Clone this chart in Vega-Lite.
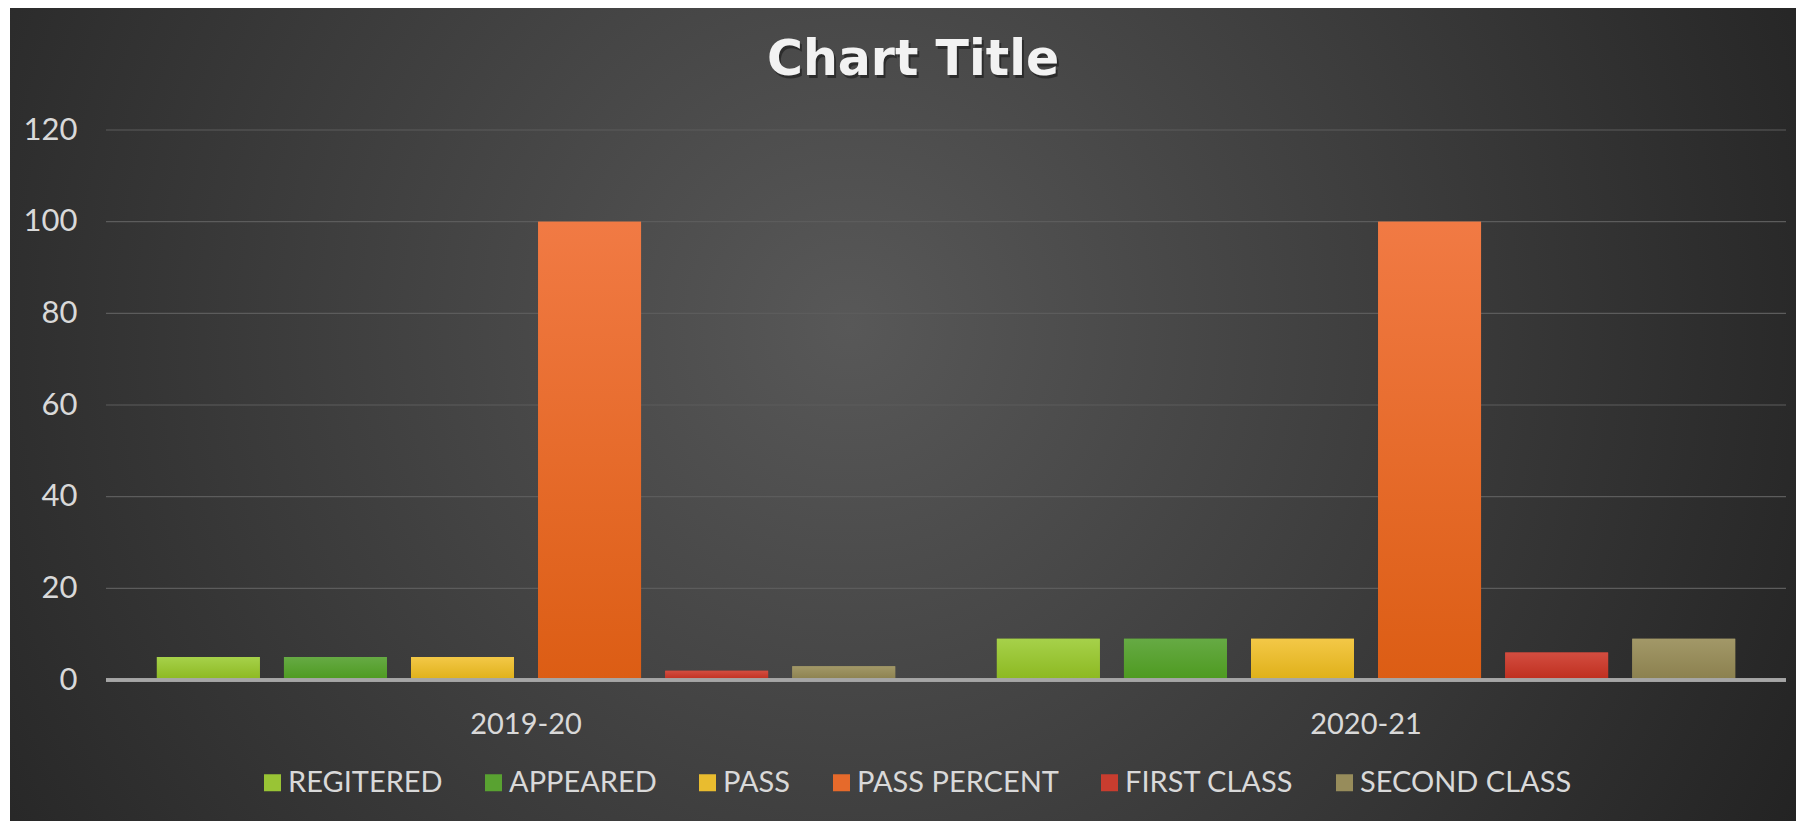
{
  "$schema": "https://vega.github.io/schema/vega-lite/v6.json",
  "width": 1786,
  "height": 813,
  "autosize": {"type": "none"},
  "padding": {"left": 10, "top": 8, "right": 0, "bottom": 0},
  "background": "white",
  "config": {
    "font": "Lato",
    "view": {
      "stroke": null,
      "fill": {
        "gradient": "radial",
        "x1": 0.47, "y1": 0.45, "r1": 0,
        "x2": 0.47, "y2": 0.45, "r2": 0.6,
        "stops": [
          {"offset": 0, "color": "#585858"},
          {"offset": 1, "color": "#232323"}
        ]
      }
    },
    "axisY": {"title": null, "grid": false, "domain": false, "ticks": false, "tickSize": 0, "labelPadding": 0, "offset": -67, "labelFontSize": 31, "labelColor": "#d9d9d9", "labelFont": "Lato"}
  },
  "datasets": {
    "bars": [
      {"year": "2019-20", "series": "REGITERED", "value": 5},
      {"year": "2019-20", "series": "APPEARED", "value": 5},
      {"year": "2019-20", "series": "PASS", "value": 5},
      {"year": "2019-20", "series": "PASS PERCENT", "value": 100},
      {"year": "2019-20", "series": "FIRST CLASS", "value": 2},
      {"year": "2019-20", "series": "SECOND CLASS", "value": 3},
      {"year": "2020-21", "series": "REGITERED", "value": 9},
      {"year": "2020-21", "series": "APPEARED", "value": 9},
      {"year": "2020-21", "series": "PASS", "value": 9},
      {"year": "2020-21", "series": "PASS PERCENT", "value": 100},
      {"year": "2020-21", "series": "FIRST CLASS", "value": 6},
      {"year": "2020-21", "series": "SECOND CLASS", "value": 9}
    ],
    "gridlines": [
      {"tick": 20}, {"tick": 40}, {"tick": 60}, {"tick": 80}, {"tick": 100}, {"tick": 120}
    ],
    "heading": [{"title": "Chart Title"}]
  },
  "data": {"name": "bars"},
  "layer": [
    {
      "data": {"name": "gridlines"},
      "mark": {"type": "rule", "color": "#5c5c5c", "strokeWidth": 1.2},
      "encoding": {
        "x": {"datum": 0, "type": "quantitative", "scale": {"domain": [-0.05714, 1.00595], "nice": false, "zero": false}, "axis": null},
        "x2": {"datum": 1},
        "y": {"field": "tick", "type": "quantitative", "scale": {"domain": [-30.76, 146.62], "nice": false, "zero": false}, "axis": {"values": [0, 20, 40, 60, 80, 100, 120]}}
      }
    },
    {
      "mark": {"type": "bar"},
      "encoding": {
        "x": {
          "field": "year", "type": "nominal",
          "scale": {"paddingInner": 0, "paddingOuter": 0.0631, "align": 0.906},
          "axis": {"title": null, "orient": "bottom", "offset": -141, "domain": false, "ticks": false, "grid": false, "labelAngle": 0, "labelPadding": 44, "labelBaseline": "middle", "labelFontSize": 29, "labelColor": "#d9d9d9", "labelFont": "Lato"}
        },
        "xOffset": {
          "field": "series", "type": "nominal",
          "sort": ["REGITERED", "APPEARED", "PASS", "PASS PERCENT", "FIRST CLASS", "SECOND CLASS"],
          "scale": {"paddingInner": 0.19, "paddingOuter": 0.4}
        },
        "y": {"field": "value", "type": "quantitative", "scale": {"domain": [-30.76, 146.62], "nice": false, "zero": false}, "axis": {"values": [0, 20, 40, 60, 80, 100, 120]}},
        "y2": {"datum": 0},
        "color": {
          "field": "series", "type": "nominal",
          "scale": {
            "domain": ["REGITERED", "APPEARED", "PASS", "PASS PERCENT", "FIRST CLASS", "SECOND CLASS"],
            "range": ["#99c435", "#59a231", "#e9bc2f", "#e66a2b", "#c83d2f", "#978c5b"]
          },
          "legend": {
            "title": null, "orient": "none", "legendX": 248, "legendY": 760, "padding": 0,
            "direction": "horizontal", "symbolType": "square", "symbolSize": 289,
            "symbolStrokeWidth": 0, "labelFontSize": 29, "labelColor": "#d9d9d9",
            "labelFont": "Lato", "labelOffset": 1, "columnPadding": 36, "labelLimit": 0
          }
        }
      }
    },
    {"transform": [{"filter": "datum.series === 'REGITERED'"}], "mark": {"type": "bar", "fill": {"gradient": "linear", "x1": 0, "y1": 0, "x2": 0, "y2": 1, "stops": [{"offset": 0, "color": "#a6d14a"}, {"offset": 1, "color": "#8cb820"}]}},
     "encoding": {"x": {"field": "year", "type": "nominal", "scale": {"paddingInner": 0, "paddingOuter": 0.0631, "align": 0.906}, "axis": null}, "xOffset": {"field": "series", "type": "nominal", "sort": ["REGITERED", "APPEARED", "PASS", "PASS PERCENT", "FIRST CLASS", "SECOND CLASS"], "scale": {"paddingInner": 0.19, "paddingOuter": 0.4}}, "y": {"field": "value", "type": "quantitative", "scale": {"domain": [-30.76, 146.62], "nice": false, "zero": false}}, "y2": {"datum": 0}}},
    {"transform": [{"filter": "datum.series === 'APPEARED'"}], "mark": {"type": "bar", "fill": {"gradient": "linear", "x1": 0, "y1": 0, "x2": 0, "y2": 1, "stops": [{"offset": 0, "color": "#66aa44"}, {"offset": 1, "color": "#4d9a1f"}]}},
     "encoding": {"x": {"field": "year", "type": "nominal", "scale": {"paddingInner": 0, "paddingOuter": 0.0631, "align": 0.906}, "axis": null}, "xOffset": {"field": "series", "type": "nominal", "sort": ["REGITERED", "APPEARED", "PASS", "PASS PERCENT", "FIRST CLASS", "SECOND CLASS"], "scale": {"paddingInner": 0.19, "paddingOuter": 0.4}}, "y": {"field": "value", "type": "quantitative", "scale": {"domain": [-30.76, 146.62], "nice": false, "zero": false}}, "y2": {"datum": 0}}},
    {"transform": [{"filter": "datum.series === 'PASS'"}], "mark": {"type": "bar", "fill": {"gradient": "linear", "x1": 0, "y1": 0, "x2": 0, "y2": 1, "stops": [{"offset": 0, "color": "#f3c847"}, {"offset": 1, "color": "#dfb018"}]}},
     "encoding": {"x": {"field": "year", "type": "nominal", "scale": {"paddingInner": 0, "paddingOuter": 0.0631, "align": 0.906}, "axis": null}, "xOffset": {"field": "series", "type": "nominal", "sort": ["REGITERED", "APPEARED", "PASS", "PASS PERCENT", "FIRST CLASS", "SECOND CLASS"], "scale": {"paddingInner": 0.19, "paddingOuter": 0.4}}, "y": {"field": "value", "type": "quantitative", "scale": {"domain": [-30.76, 146.62], "nice": false, "zero": false}}, "y2": {"datum": 0}}},
    {"transform": [{"filter": "datum.series === 'PASS PERCENT'"}], "mark": {"type": "bar", "fill": {"gradient": "linear", "x1": 0, "y1": 0, "x2": 0, "y2": 1, "stops": [{"offset": 0, "color": "#f17a44"}, {"offset": 1, "color": "#dc5d14"}]}},
     "encoding": {"x": {"field": "year", "type": "nominal", "scale": {"paddingInner": 0, "paddingOuter": 0.0631, "align": 0.906}, "axis": null}, "xOffset": {"field": "series", "type": "nominal", "sort": ["REGITERED", "APPEARED", "PASS", "PASS PERCENT", "FIRST CLASS", "SECOND CLASS"], "scale": {"paddingInner": 0.19, "paddingOuter": 0.4}}, "y": {"field": "value", "type": "quantitative", "scale": {"domain": [-30.76, 146.62], "nice": false, "zero": false}}, "y2": {"datum": 0}}},
    {"transform": [{"filter": "datum.series === 'FIRST CLASS'"}], "mark": {"type": "bar", "fill": {"gradient": "linear", "x1": 0, "y1": 0, "x2": 0, "y2": 1, "stops": [{"offset": 0, "color": "#d34d40"}, {"offset": 1, "color": "#be2e1e"}]}},
     "encoding": {"x": {"field": "year", "type": "nominal", "scale": {"paddingInner": 0, "paddingOuter": 0.0631, "align": 0.906}, "axis": null}, "xOffset": {"field": "series", "type": "nominal", "sort": ["REGITERED", "APPEARED", "PASS", "PASS PERCENT", "FIRST CLASS", "SECOND CLASS"], "scale": {"paddingInner": 0.19, "paddingOuter": 0.4}}, "y": {"field": "value", "type": "quantitative", "scale": {"domain": [-30.76, 146.62], "nice": false, "zero": false}}, "y2": {"datum": 0}}},
    {"transform": [{"filter": "datum.series === 'SECOND CLASS'"}], "mark": {"type": "bar", "fill": {"gradient": "linear", "x1": 0, "y1": 0, "x2": 0, "y2": 1, "stops": [{"offset": 0, "color": "#a29868"}, {"offset": 1, "color": "#8b804e"}]}},
     "encoding": {"x": {"field": "year", "type": "nominal", "scale": {"paddingInner": 0, "paddingOuter": 0.0631, "align": 0.906}, "axis": null}, "xOffset": {"field": "series", "type": "nominal", "sort": ["REGITERED", "APPEARED", "PASS", "PASS PERCENT", "FIRST CLASS", "SECOND CLASS"], "scale": {"paddingInner": 0.19, "paddingOuter": 0.4}}, "y": {"field": "value", "type": "quantitative", "scale": {"domain": [-30.76, 146.62], "nice": false, "zero": false}}, "y2": {"datum": 0}}},
    {
      "mark": {"type": "rule", "color": "#a6a6a6", "strokeWidth": 2.5},
      "encoding": {
        "x": {"datum": 0, "type": "quantitative", "scale": {"domain": [-0.05714, 1.00595], "nice": false, "zero": false}, "axis": null},
        "x2": {"datum": 1},
        "y": {"datum": 0, "type": "quantitative", "scale": {"domain": [-30.76, 146.62], "nice": false, "zero": false}}
      }
    },
    {
      "data": {"name": "heading"},
      "mark": {"type": "text", "font": "DejaVu Sans", "fontSize": 49, "fontWeight": "bold", "color": "#000000", "opacity": 0.4, "baseline": "middle", "align": "center", "dx": 2, "dy": 3},
      "encoding": {
        "x": {"datum": 0.4804, "type": "quantitative", "scale": {"domain": [-0.05714, 1.00595], "nice": false, "zero": false}, "axis": null},
        "y": {"datum": 135.3, "type": "quantitative", "scale": {"domain": [-30.76, 146.62], "nice": false, "zero": false}},
        "text": {"field": "title"}
      }
    },
    {
      "data": {"name": "heading"},
      "mark": {"type": "text", "font": "DejaVu Sans", "fontSize": 49, "fontWeight": "bold", "color": "#f2f2f2", "baseline": "middle", "align": "center"},
      "encoding": {
        "x": {"datum": 0.4804, "type": "quantitative", "scale": {"domain": [-0.05714, 1.00595], "nice": false, "zero": false}, "axis": null},
        "y": {"datum": 135.3, "type": "quantitative", "scale": {"domain": [-30.76, 146.62], "nice": false, "zero": false}},
        "text": {"field": "title"}
      }
    }
  ],
  "resolve": {"scale": {"x": "independent"}}
}
